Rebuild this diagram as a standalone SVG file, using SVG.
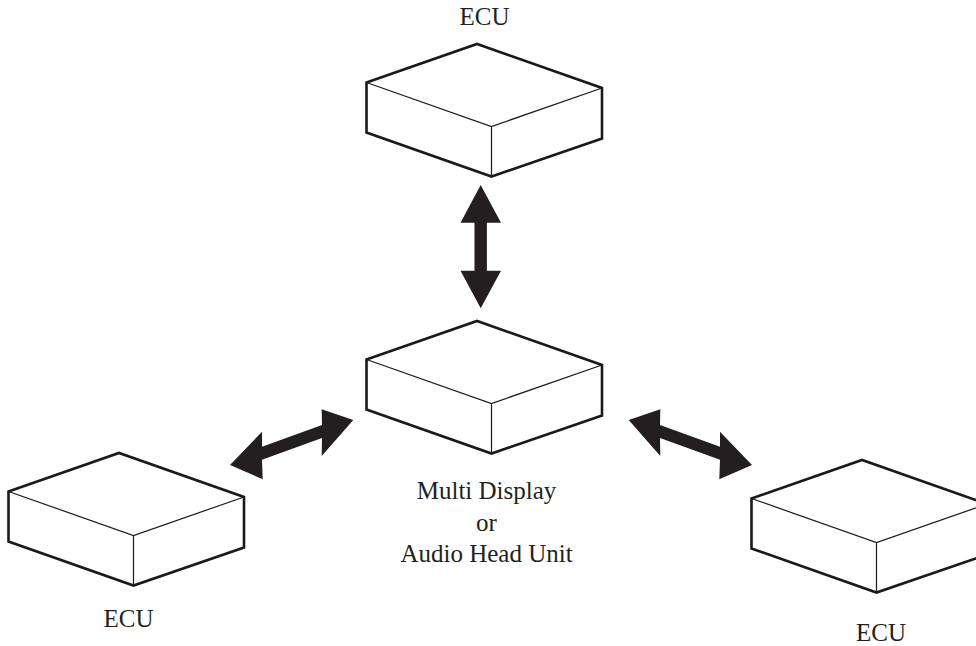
<svg xmlns="http://www.w3.org/2000/svg" xmlns:xlink="http://www.w3.org/1999/xlink" width="976" height="646" viewBox="0 0 976 646">
<style>
.outer{fill:#fff;stroke:#1a1a1a;stroke-width:2.6;stroke-linejoin:miter}
.inner{fill:none;stroke:#1a1a1a;stroke-width:1.2}
.lbl{font-family:"Liberation Serif","Times New Roman",serif;font-size:25px;fill:#231f20;text-anchor:middle}
.arrow{fill:#231f20;stroke:none}
</style>
<defs>
<g id="box">
<path class="outer" d="M-110.5,38.5 L0,0 L125,44 L125,94.5 L14.5,132.5 L-110.5,88.5 Z"/>
<path class="inner" d="M-110.5,38.5 L14.5,82.5 L125,44 M14.5,82.5 V132.5"/>
</g>
</defs>
<rect width="976" height="646" fill="#fff"/>
<g id="connectors">
<polygon class="arrow" points="480.7,185 501,222.7 486.9,222.7 486.9,270.7 501,270.7 480.7,308.3 460.5,270.7 474.5,270.7 474.5,222.7 460.5,222.7"/>
<polygon class="arrow" points="230,465 262,431.7 262,446.8 322,424.9 321.7,409.3 353.3,420 321.7,456 322,437.9 262,459.8 262.7,479.3"/>
<polygon class="arrow" points="752,465 720,431.7 720,446.8 660,424.9 660.3,409.3 628.7,420 660.3,456 660,437.9 720,459.8 719.3,479.3"/>
</g>
<g id="ecu-top">
<use xlink:href="#box" transform="translate(477,44)"/>
<text class="lbl" x="484.5" y="25">ECU</text>
</g>
<g id="head-unit">
<use xlink:href="#box" transform="translate(477,321)"/>
<text class="lbl" x="486.5" y="499">Multi Display</text>
<text class="lbl" x="486.5" y="531">or</text>
<text class="lbl" x="486.5" y="562">Audio Head Unit</text>
</g>
<g id="ecu-left">
<use xlink:href="#box" transform="translate(119,453)"/>
<text class="lbl" x="128.5" y="627">ECU</text>
</g>
<g id="ecu-right">
<use xlink:href="#box" transform="translate(862,460)"/>
<text class="lbl" x="881" y="641">ECU</text>
</g>
</svg>
